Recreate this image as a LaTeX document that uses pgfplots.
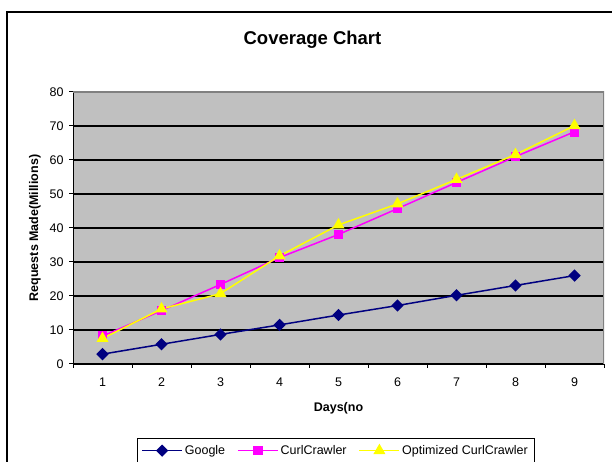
\documentclass[border=0pt]{standalone}
\usepackage{fontspec}
\setmainfont{Liberation Sans}
\usepackage{pgfplots}
\pgfplotsset{compat=1.18}
\definecolor{gnavy}{RGB}{0,0,128}
\definecolor{cmag}{RGB}{255,0,255}
\definecolor{oyel}{RGB}{255,255,0}
\definecolor{plotgray}{RGB}{192,192,192}
\definecolor{bordergray}{RGB}{128,128,128}
\begin{document}
\begin{tikzpicture}
\path[use as bounding box] (0pt,0pt) rectangle (612pt,462pt);
\draw[line width=1.3pt] (7pt,-20pt) -- (7pt,450pt) -- (640pt,450pt);
\begin{axis}[
  at={(73pt,98pt)}, anchor=south west,
  scale only axis, width=531pt, height=272pt,
  xmin=0.5, xmax=9.5, ymin=0, ymax=80,
  axis background/.style={fill=plotgray},
  axis line style={line width=1pt},
  separate axis lines,
  x axis line style={black},
  y axis line style={black},
  axis x line*=bottom, axis y line*=left,
  xtick={1,...,9},
  minor xtick={0.5,1.5,...,9.5},
  major x tick style={draw=none},
  minor x tick style={black, line width=1pt},
  ytick={0,10,...,80},
  y tick style={black, line width=1pt},
  tick align=outside,
  major tick length=4pt, minor tick length=4pt,
  ymajorgrids, y grid style={black, line width=1.1pt},
  /pgf/number format/assume math mode=true,
  tick label style={font=\fontsize{12.5}{14}\selectfont},
  xticklabel style={yshift=-6pt},
  yticklabel style={xshift=-2pt},
  xlabel={Days(no},
  xlabel style={font=\fontsize{12.5}{14}\selectfont\bfseries, at={(axis description cs:0.5,-0.162)}, anchor=center},
  ylabel={Requests Made(Millions)},
  ylabel style={font=\fontsize{12.5}{14}\selectfont\bfseries, at={(axis description cs:-0.0716,0.5)}, anchor=center},
  title={Coverage Chart},
  title style={font=\fontsize{18.5}{22}\selectfont\bfseries, at={(axis description cs:0.451,1.169)}, anchor=center},
  legend columns=3,
  legend style={at={(axis description cs:0.1205,-0.272)}, anchor=north west,
    draw=black, line width=0.8pt, fill=white,
    font=\fontsize{12.5}{14}\selectfont,
    inner xsep=4pt, inner ysep=5pt,
    /tikz/every even column/.append style={column sep=10pt}},
  legend image code/.code={\draw[mark repeat=2,mark phase=2,#1] plot coordinates {(0pt,0pt)(20pt,0pt)(40pt,0pt)};},
]
\addplot[gnavy, line width=1.5pt, mark=square*, mark size=3.6pt, mark options={rotate=45, solid, fill=gnavy, draw=gnavy}] coordinates {
(1,2.9) (2,5.8) (3,8.7) (4,11.5) (5,14.4) (6,17.2) (7,20.2) (8,23.1) (9,26.0)};
\addlegendentry{Google}
\addplot[cmag, line width=1.5pt, mark=square*, mark size=4pt, mark options={solid, fill=cmag, draw=cmag}] coordinates {
(1,8.2) (2,15.7) (3,23.4) (4,31.3) (5,38.1) (6,45.7) (7,53.4) (8,61.0) (9,68.3)};
\addlegendentry{CurlCrawler}
\addplot[oyel, line width=1.5pt, mark=triangle*, mark size=5.5pt, mark options={solid, fill=oyel, draw=oyel}] coordinates {
(1,7.5) (2,16.2) (3,20.7) (4,31.8) (5,40.9) (6,47.1) (7,54.3) (8,61.6) (9,70.1)};
\addlegendentry{Optimized CurlCrawler}
\draw[bordergray, line width=1.2pt] (axis cs:0.5,80) -- (axis cs:9.5,80) -- (axis cs:9.5,0);
\end{axis}
\end{tikzpicture}
\end{document}
